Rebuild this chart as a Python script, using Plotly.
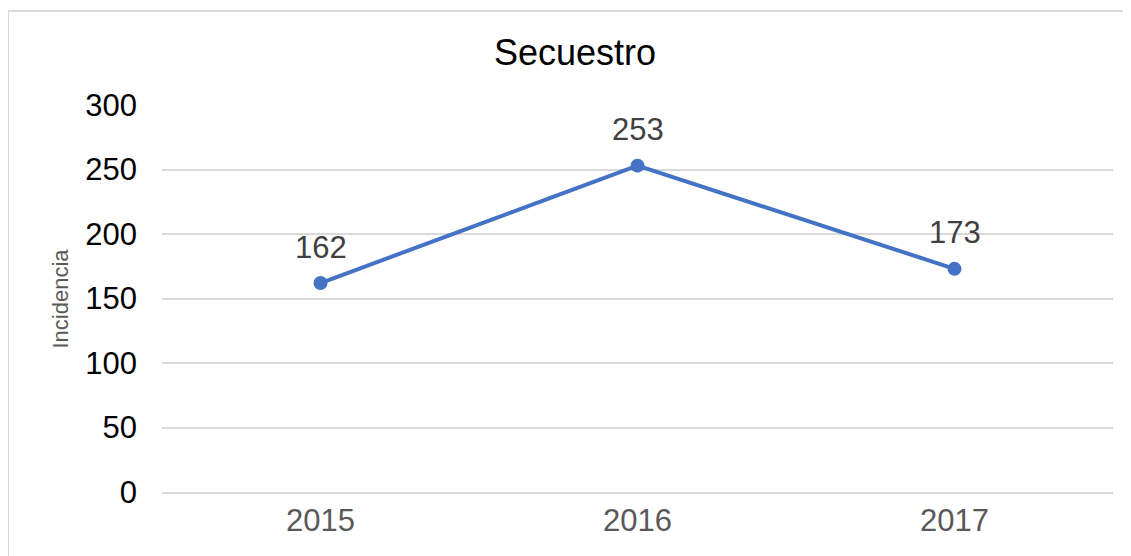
import plotly.graph_objects as go

# Datos
anios = ["2015", "2016", "2017"]
incidencia = [162, 253, 173]
ticks_y = [0, 50, 100, 150, 200, 250, 300]

fig = go.Figure()

fig.add_trace(go.Scatter(
    x=anios, y=incidencia,
    mode="lines+markers",
    line=dict(color="#4472C4", width=4),
    marker=dict(color="#4472C4", size=14),
    cliponaxis=False,
    showlegend=False,
))

# etiquetas de datos encima de cada punto (x por indice de categoria)
etiquetas = [dict(x=i, y=v, text=str(v), showarrow=False, yshift=36,
                  font=dict(size=31, color="#404040"))
             for i, v in enumerate(incidencia)]

# la pagina tiene 8px de margen en el body, se compensa en los margenes
fig.update_layout(
    width=1131, height=556,
    margin=dict(l=154, r=26, t=97, b=72),
    paper_bgcolor="white", plot_bgcolor="white",
    font=dict(family="Liberation Sans, Arial"),
    title=dict(text="Secuestro", x=567 / 1131, xanchor="center",
               y=1 - 44 / 556, yanchor="middle",
               font=dict(size=36, color="black")),
    xaxis=dict(type="category", range=[-0.5, 2.5], showgrid=False, zeroline=False,
               showline=True, linecolor="#D9D9D9", linewidth=1.5,
               tickfont=dict(size=31, color="#595959"), ticks=""),
    yaxis=dict(range=[0, 300], tickvals=ticks_y, showgrid=True, gridcolor="#D9D9D9",
               gridwidth=1.5, zeroline=False, showline=False, ticks="",
               ticklabelstandoff=24,
               tickfont=dict(size=31, color="black")),
    annotations=etiquetas + [
        dict(text="Incidencia", textangle=-90, xref="paper", yref="paper",
             x=(60 - 162) / 951, y=0.5, xanchor="center", yanchor="middle",
             showarrow=False, font=dict(size=22, color="#595959"))],
    shapes=[dict(type="rect", xref="paper", yref="paper",
                 x0=(8 - 162) / 951, x1=(1140 - 162) / 951,
                 y0=(492 - 570) / 387, y1=(492 - 11) / 387,
                 line=dict(color="#D9D9D9", width=2), layer="below")],
)

fig.write_html("out.html")
